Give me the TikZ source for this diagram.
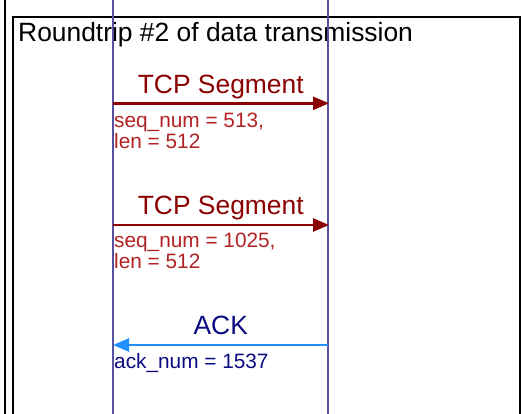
\documentclass[tikz,border=0pt]{standalone}
\usepackage{fontspec}
\setmainfont{Liberation Sans}
\usetikzlibrary{arrows.meta}
\definecolor{lifeline}{RGB}{88,80,160}
\definecolor{segred}{RGB}{139,0,0}
\definecolor{lblred}{RGB}{178,34,34}
\definecolor{acknavy}{RGB}{10,10,130}
\definecolor{ackblue}{RGB}{30,144,255}
\tikzset{
  framestyle/.style={draw=black, line width=2pt},
  lifestyle/.style={draw=lifeline, line width=2pt},
  msgtitle/.style={anchor=base, inner sep=0pt, font=\fontsize{26.4}{30}\selectfont},
  msgnote/.style={anchor=base west, inner sep=0pt, font=\fontsize{20.8}{21.4}\selectfont},
  segarrow/.style={draw=segred, line width=2.6pt, -{Triangle[length=16pt,width=13pt]}},
  ackarrow/.style={draw=ackblue, line width=2.6pt, -{Triangle[length=16pt,width=13pt]}}
}
\begin{document}
\begin{tikzpicture}[x=1pt,y=-1pt]
  \useasboundingbox (0,0) rectangle (523,414);
  \clip (0,0) rectangle (523,414);

  % outer fragment edge and the roundtrip frame
  \coordinate (edgeT) at (5,-5);
  \coordinate (edgeB) at (5,420);
  \draw[framestyle] (edgeT) -- (edgeB);
  \coordinate (frameNW) at (13,17);
  \coordinate (frameSE) at (519.5,430);
  \draw[framestyle] (frameNW) rectangle (frameSE);

  \node[anchor=base west, inner sep=0pt, font=\fontsize{26.4}{30}\selectfont]
    (title) at (18,41.7) {Roundtrip \#2 of data transmission};

  % lifelines of sender and receiver
  \coordinate (sendT) at (113,-5);
  \coordinate (sendB) at (113,420);
  \coordinate (recvT) at (328,-5);
  \coordinate (recvB) at (328,420);
  \draw[lifestyle] (sendT) -- (sendB);
  \draw[lifestyle] (recvT) -- (recvB);

  % first segment
  \coordinate (s1a) at (113,103.3);
  \coordinate (s1b) at (329,103.3);
  \draw[segarrow] (s1a) -- (s1b);
  \node[msgtitle, text=segred] (t1) at (220.75,93.3) {TCP Segment};
  \node[msgnote, text=lblred] (n1a) at (114,127.3) {seq\_num = 513,};
  \node[msgnote, text=lblred] (n1b) at (114,148.7) {len = 512};

  % second segment
  \coordinate (s2a) at (113,225);
  \coordinate (s2b) at (329,225);
  \draw[segarrow] (s2a) -- (s2b);
  \node[msgtitle, text=segred] (t2) at (220.75,214.5) {TCP Segment};
  \node[msgnote, text=lblred] (n2a) at (114,247.5) {seq\_num = 1025,};
  \node[msgnote, text=lblred] (n2b) at (114,268.9) {len = 512};

  % acknowledgement
  \coordinate (a1a) at (328,345);
  \coordinate (a1b) at (113,345);
  \draw[ackarrow] (a1a) -- (a1b);
  \node[msgtitle, text=acknavy] (t3) at (220.75,335) {ACK};
  \node[msgnote, text=acknavy] (n3) at (114,368.3) {ack\_num = 1537};
\end{tikzpicture}
\end{document}
